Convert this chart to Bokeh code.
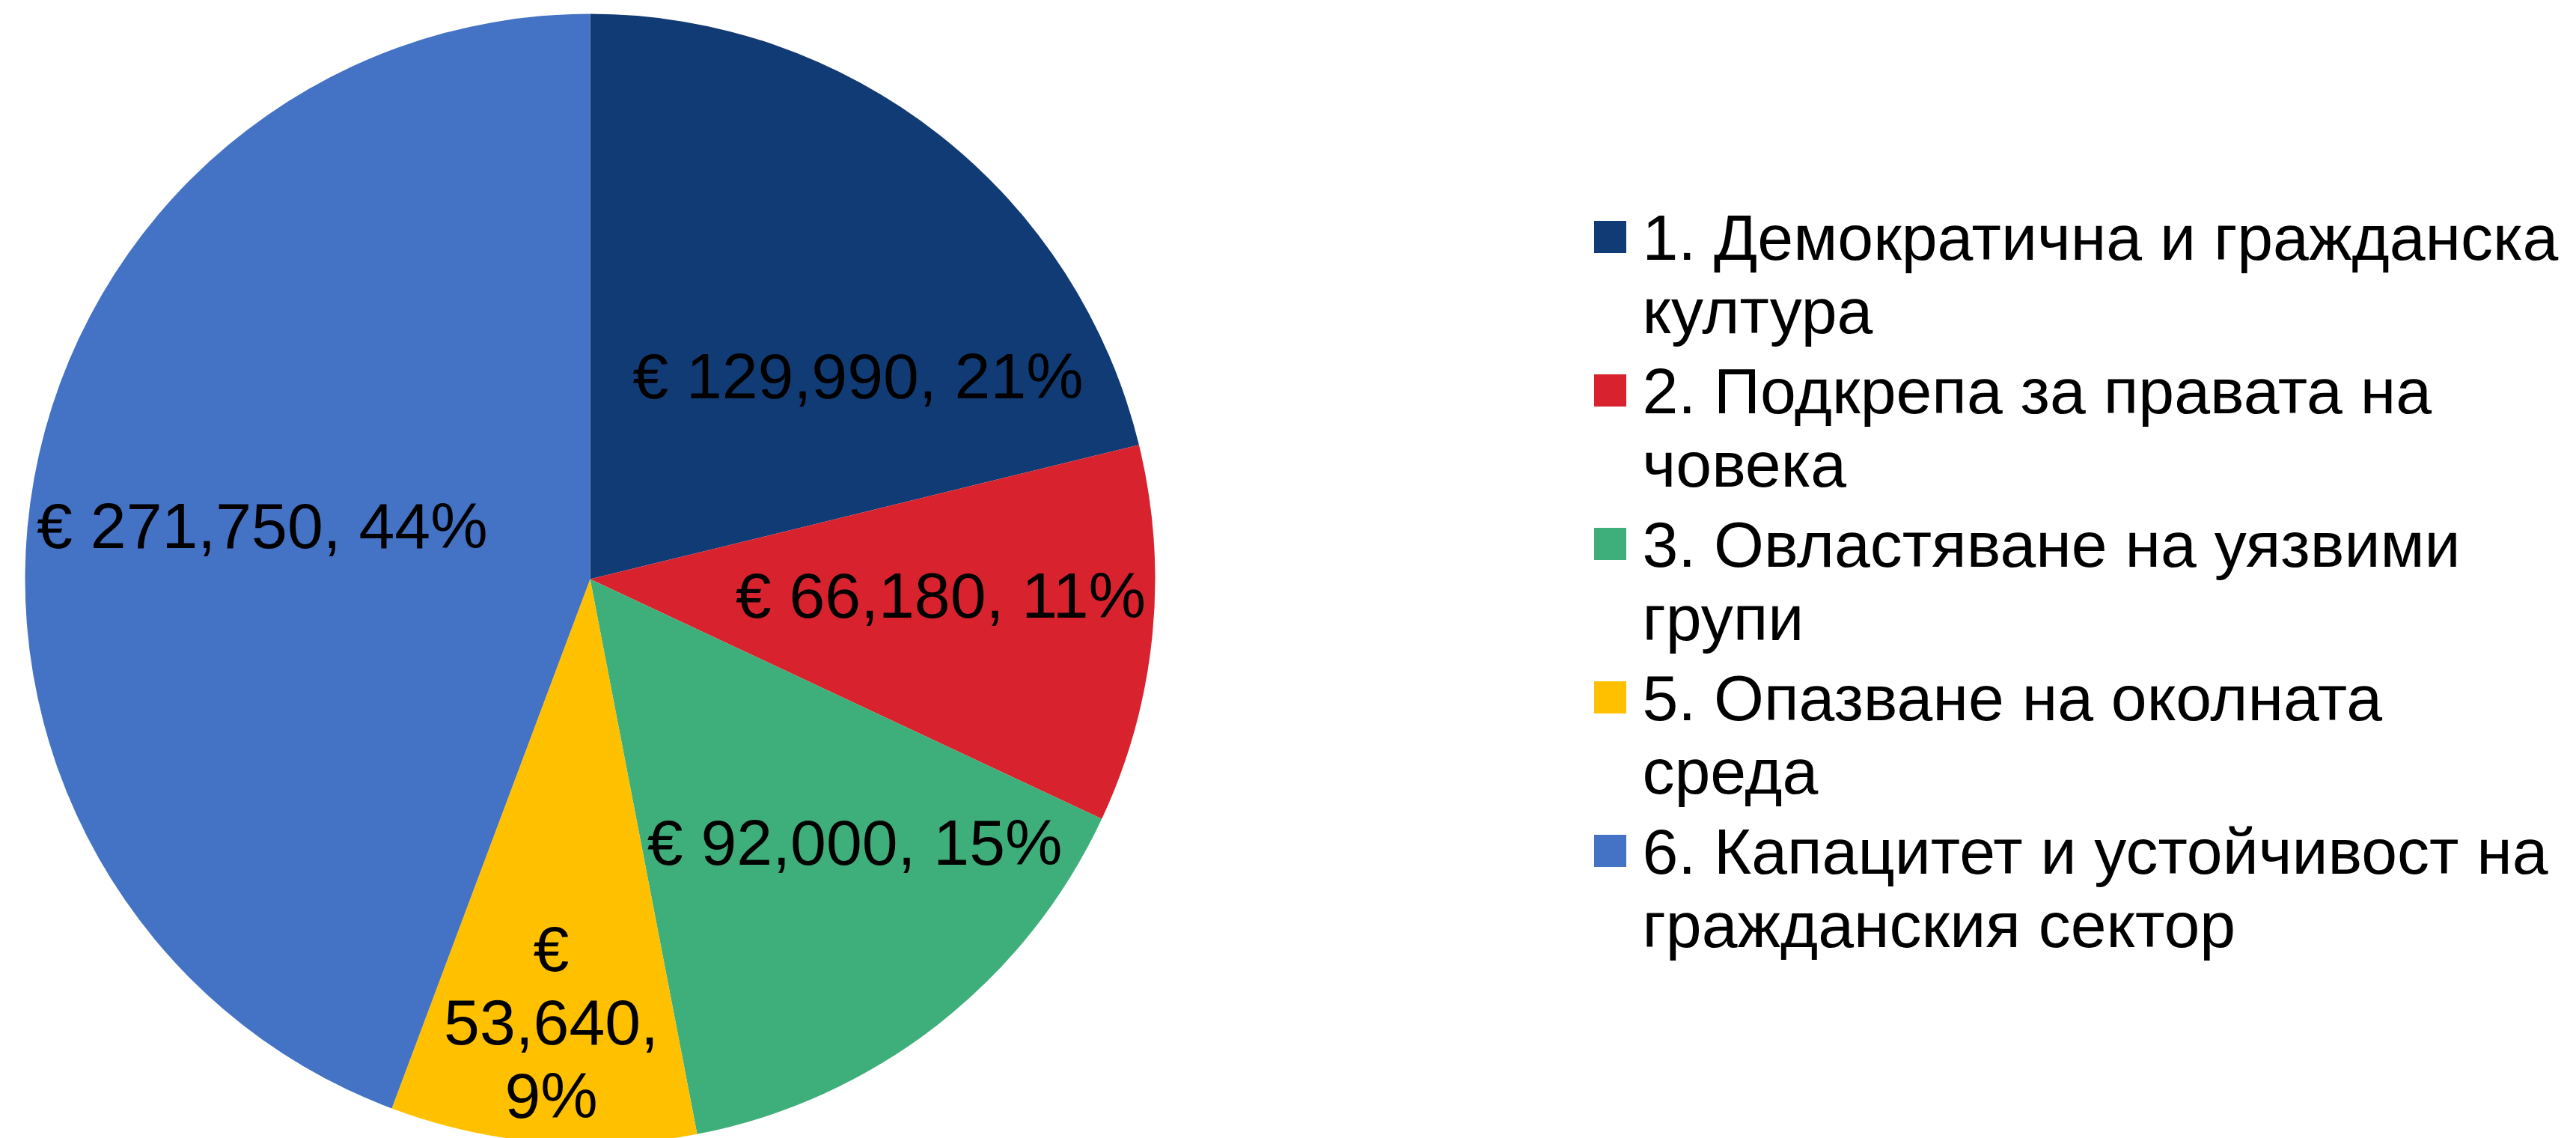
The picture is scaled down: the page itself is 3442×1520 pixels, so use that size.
import math
from bokeh.plotting import figure
from bokeh.models import ColumnDataSource, Range1d
from bokeh.core.properties import value
from bokeh.embed import file_html
from bokeh.resources import INLINE

# ---- data ----
categories = [
    "1. Демократична и гражданска култура",
    "2. Подкрепа за правата на човека",
    "3. Овластяване на уязвими групи",
    "5. Опазване на околната среда",
    "6. Капацитет и устойчивост на гражданския сектор",
]
legend_lines = [
    ["1. Демократична и гражданска", "култура"],
    ["2. Подкрепа за правата на", "човека"],
    ["3. Овластяване на уязвими", "групи"],
    ["5. Опазване на околната", "среда"],
    ["6. Капацитет и устойчивост на", "гражданския сектор"],
]
amounts = [129990, 66180, 92000, 53640, 271750]
colors = ["#113B75", "#D8232F", "#3EAF7A", "#FFC000", "#4472C4"]

# ---- layout (pixels) ----
W, H = 3442, 1520
CX, CY, R = 788, 773, 755          # pie centre / radius in figure pixels
FONT = "Liberation Sans"
FS = 86
LINE_H = 98
# label placement: (radius fraction, angle nudge in degrees clockwise)
label_polar = [(0.595, 14.7), (0.621, -3.0), (0.660, -7.3), (0.787, 0.2), (0.588, -1.0)]
label_wrap = [False, False, False, True, False]

total = sum(amounts)
fr = [a / total for a in amounts]

p = figure(width=W, height=H, output_backend="svg", toolbar_location=None,
           x_range=Range1d(-CX / R, (W - CX) / R),
           y_range=Range1d(-(H - CY) / R, CY / R),
           min_border=0)
p.axis.visible = False
p.grid.visible = False
p.outline_line_color = None
p.background_fill_color = "white"

# wedges
starts, ends, mids = [], [], []
cum = 0.0
for f in fr:
    a0 = math.pi / 2 - cum * 2 * math.pi
    a1 = math.pi / 2 - (cum + f) * 2 * math.pi
    starts.append(a0)
    ends.append(a1)
    mids.append(cum + f / 2)
    cum += f
src = ColumnDataSource(dict(start=starts, end=ends, color=colors, cat=categories))
p.wedge(x=0, y=0, radius=1, start_angle="start", end_angle="end",
        direction="clock", fill_color="color", line_color=None, source=src)

# data labels
lx, ly, lt, lo = [], [], [], []
for i, a in enumerate(amounts):
    pct = round(fr[i] * 100)
    rr, nudge = label_polar[i]
    ang = math.radians(mids[i] * 360 + nudge)
    x = rr * math.sin(ang)
    y = rr * math.cos(ang)
    if label_wrap[i]:
        parts = ["€", f"{a:,},", f"{pct}%"]
    else:
        parts = [f"€ {a:,}, {pct}%"]
    n = len(parts)
    for k, t in enumerate(parts):
        lx.append(x)
        ly.append(y)
        lt.append(t)
        lo.append((k - (n - 1) / 2) * LINE_H)
lsrc = ColumnDataSource(dict(x=lx, y=ly, text=lt, yo=lo))
p.text(x="x", y="y", text="text", y_offset="yo", source=lsrc,
       text_font=value(FONT), text_font_size=f"{FS}px", text_color="black",
       text_align="center", text_baseline="middle")

# legend
SQ_X, SQ_Y0, SQ = 2151, 316, 43
ITEM = 205
TX = 2194
sx, sy = [], []
tx, ty, tt, to = [], [], [], []
for i, lines in enumerate(legend_lines):
    py = SQ_Y0 + ITEM * i
    sx.append((SQ_X - CX) / R)
    sy.append((CY - py) / R)
    for k, t in enumerate(lines):
        tx.append((TX - CX) / R)
        ty.append((CY - py) / R)
        tt.append(t)
        to.append(k * LINE_H)
p.scatter(x=sx, y=sy, marker="square", size=SQ, fill_color=colors, line_color=None)
p.text(x=tx, y=ty, text=tt, y_offset=to,
       text_font=value(FONT), text_font_size=f"{FS}px", text_color="black",
       text_align="left", text_baseline="middle")

open("out.html", "w").write(file_html(p, INLINE))
